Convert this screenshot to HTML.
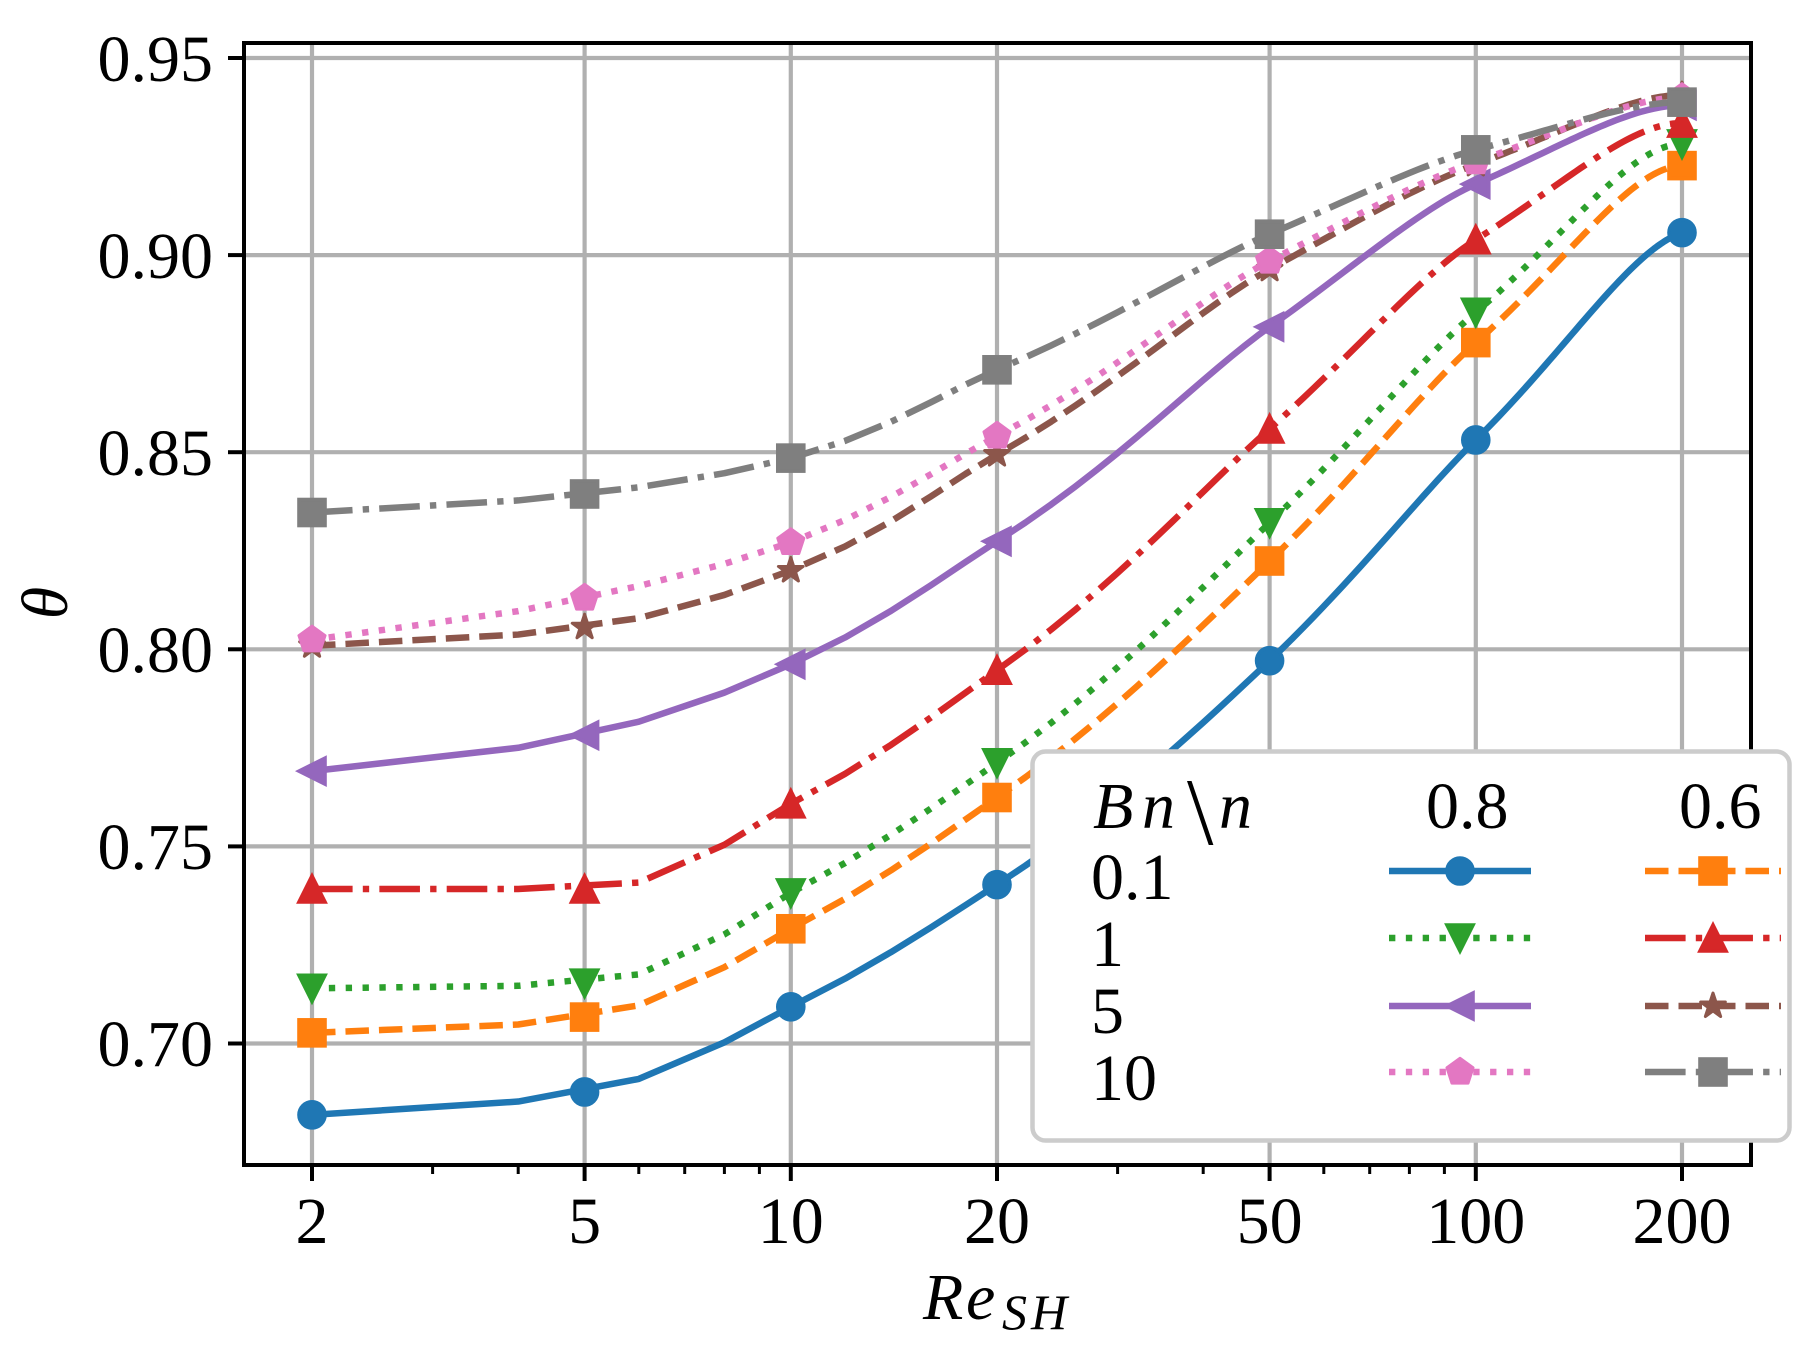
<!DOCTYPE html>
<html><head><meta charset="utf-8">
<style>
html,body{margin:0;padding:0;background:#fff;}
svg{display:block;}
text{font-family:"Liberation Serif","DejaVu Serif",serif;fill:#000;}
</style></head><body>
<svg id="s" width="1819" height="1357" viewBox="0 0 1819 1357" xmlns="http://www.w3.org/2000/svg">
<rect x="0" y="0" width="1819" height="1357" fill="#fff"/>
<!-- grid -->
<g stroke="#b0b0b0" stroke-width="4.2" fill="none">
<line x1="312" y1="43" x2="312" y2="1165"/>
<line x1="584.6" y1="43" x2="584.6" y2="1165"/>
<line x1="790.8" y1="43" x2="790.8" y2="1165"/>
<line x1="997" y1="43" x2="997" y2="1165"/>
<line x1="1269.6" y1="43" x2="1269.6" y2="1165"/>
<line x1="1475.8" y1="43" x2="1475.8" y2="1165"/>
<line x1="1682" y1="43" x2="1682" y2="1165"/>
<line x1="244" y1="58" x2="1751" y2="58"/>
<line x1="244" y1="255.1" x2="1751" y2="255.1"/>
<line x1="244" y1="452.2" x2="1751" y2="452.2"/>
<line x1="244" y1="649.3" x2="1751" y2="649.3"/>
<line x1="244" y1="846.4" x2="1751" y2="846.4"/>
<line x1="244" y1="1043.5" x2="1751" y2="1043.5"/>
</g>
<g id="series"></g>
<!-- spines & ticks -->
<rect x="244" y="43" width="1507" height="1122" fill="none" stroke="#000" stroke-width="4"/>
<g stroke="#000" stroke-width="4">
<line x1="228" y1="58" x2="244" y2="58"/>
<line x1="228" y1="255.1" x2="244" y2="255.1"/>
<line x1="228" y1="452.2" x2="244" y2="452.2"/>
<line x1="228" y1="649.3" x2="244" y2="649.3"/>
<line x1="228" y1="846.4" x2="244" y2="846.4"/>
<line x1="228" y1="1043.5" x2="244" y2="1043.5"/>
<line x1="312" y1="1165" x2="312" y2="1181"/>
<line x1="584.6" y1="1165" x2="584.6" y2="1181"/>
<line x1="790.8" y1="1165" x2="790.8" y2="1181"/>
<line x1="997" y1="1165" x2="997" y2="1181"/>
<line x1="1269.6" y1="1165" x2="1269.6" y2="1181"/>
<line x1="1475.8" y1="1165" x2="1475.8" y2="1181"/>
<line x1="1682" y1="1165" x2="1682" y2="1181"/>
</g>
<g stroke="#000" stroke-width="3">
<line x1="432.6" y1="1165" x2="432.6" y2="1174"/>
<line x1="518.2" y1="1165" x2="518.2" y2="1174"/>
<line x1="638.8" y1="1165" x2="638.8" y2="1174"/>
<line x1="684.7" y1="1165" x2="684.7" y2="1174"/>
<line x1="724.4" y1="1165" x2="724.4" y2="1174"/>
<line x1="759.4" y1="1165" x2="759.4" y2="1174"/>
<line x1="1117.6" y1="1165" x2="1117.6" y2="1174"/>
<line x1="1203.2" y1="1165" x2="1203.2" y2="1174"/>
<line x1="1323.8" y1="1165" x2="1323.8" y2="1174"/>
<line x1="1369.7" y1="1165" x2="1369.7" y2="1174"/>
<line x1="1409.4" y1="1165" x2="1409.4" y2="1174"/>
<line x1="1444.4" y1="1165" x2="1444.4" y2="1174"/>
</g>
<!-- y tick labels -->
<g font-size="66" text-anchor="end">
<text x="213" y="81">0.95</text>
<text x="213" y="278">0.90</text>
<text x="213" y="475">0.85</text>
<text x="213" y="672">0.80</text>
<text x="213" y="869">0.75</text>
<text x="213" y="1066">0.70</text>
</g>
<!-- x tick labels -->
<g font-size="66" text-anchor="middle">
<text x="312" y="1243">2</text>
<text x="584.6" y="1243">5</text>
<text x="790.8" y="1243">10</text>
<text x="997" y="1243">20</text>
<text x="1269.6" y="1243">50</text>
<text x="1475.8" y="1243">100</text>
<text x="1682" y="1243">200</text>
</g>
<!-- axis labels -->
<text transform="translate(67,603) rotate(-90)" text-anchor="middle" font-size="66" font-style="italic">θ</text>
<text y="1319" font-size="66" font-style="italic"><tspan x="923">R</tspan><tspan x="966">e</tspan></text>
<text y="1329" font-size="50" font-style="italic"><tspan x="1002">S</tspan><tspan x="1031">H</tspan></text>
<!-- legend -->
<rect x="1032.5" y="751.5" width="757" height="389" rx="13" ry="13" fill="#fff" stroke="#cccccc" stroke-width="4.5"/>
<g id="leg"></g>
<g font-size="66">
<text x="1093" y="828" font-style="italic">B</text>
<text x="1142" y="828" font-style="italic">n</text>
<text x="1187" y="844" font-size="95">\</text>
<text x="1219" y="828" font-style="italic">n</text>
<text x="1426" y="828">0.8</text>
<text x="1679" y="828">0.6</text>
<text x="1091" y="899">0.1</text>
<text x="1091" y="966">1</text>
<text x="1091" y="1033">5</text>
<text x="1091" y="1100">10</text>
</g>
</svg>
<script>
(function(){
const NS="http://www.w3.org/2000/svg";
const X=v=>312+685*Math.log10(v/2);
const Y=v=>58+(0.95-v)*3942;
const xs=[2,5,10,20,50,100,200];
const DASH={solid:null,dashed:"23.5 10",dotted:"6.35 10.5",dashdot:"40.6 10.2 6.35 10.2"};
const series=[
 {c:"#1f77b4",m:"o",ls:"solid",  y:[0.6819,0.6877,0.7093,0.7403,0.7971,0.8531,0.9057]},
 {c:"#ff7f0e",m:"s",ls:"dashed", y:[0.7027,0.7067,0.7291,0.7624,0.8224,0.8778,0.9227]},
 {c:"#2ca02c",m:"v",ls:"dotted", y:[0.7140,0.7153,0.7382,0.7712,0.8321,0.8855,0.9282]},
 {c:"#d62728",m:"^",ls:"dashdot",y:[0.7392,0.7392,0.7608,0.7947,0.8559,0.9039,0.9335]},
 {c:"#9467bd",m:"<",ls:"solid",  y:[0.7691,0.7782,0.7962,0.8274,0.8818,0.9180,0.9380]},
 {c:"#8c564b",m:"*",ls:"dashed", y:[0.8009,0.8056,0.8200,0.8494,0.8964,0.9230,0.9406]},
 {c:"#e377c2",m:"p",ls:"dotted", y:[0.8024,0.8130,0.8271,0.8541,0.8985,0.9237,0.9400]},
 {c:"#7f7f7f",m:"s",ls:"dashdot",y:[0.8347,0.8394,0.8485,0.8709,0.9053,0.9267,0.9388]}
];
function sgn(v){return v>0?1:(v<0?-1:0);}
function pchipD(x,y){
 const n=x.length,h=[],del=[],d=new Array(n).fill(0);
 for(let i=0;i<n-1;i++){h.push(x[i+1]-x[i]);del.push((y[i+1]-y[i])/h[i]);}
 for(let k=1;k<n-1;k++){
  if(del[k-1]*del[k]<=0){d[k]=0;}
  else{const w1=2*h[k]+h[k-1],w2=h[k]+2*h[k-1];d[k]=(w1+w2)/(w1/del[k-1]+w2/del[k]);}
 }
 function edge(h0,h1,m0,m1){let dd=((2*h0+h1)*m0-h0*m1)/(h0+h1);
  if(sgn(dd)!==sgn(m0))dd=0;else if(sgn(m0)!==sgn(m1)&&Math.abs(dd)>Math.abs(3*m0))dd=3*m0;return dd;}
 d[0]=edge(h[0],h[1],del[0],del[1]);
 d[n-1]=edge(h[n-2],h[n-3],del[n-2],del[n-3]);
 return d;
}
function ev(x,y,d,t){let i=0;while(i<x.length-2&&t>x[i+1])i++;
 const h=x[i+1]-x[i],s=(t-x[i])/h,s2=s*s,s3=s2*s;
 return (2*s3-3*s2+1)*y[i]+(s3-2*s2+s)*h*d[i]+(-2*s3+3*s2)*y[i+1]+(s3-s2)*h*d[i+1];}
function el(tag,attrs,parent){const e=document.createElementNS(NS,tag);for(const k in attrs)e.setAttribute(k,attrs[k]);parent.appendChild(e);return e;}
function poly(pts){return pts.map(p=>p[0].toFixed(2)+","+p[1].toFixed(2)).join(" ");}
function marker(g,type,cx,cy,color){
 const s=13;let e;
 const common={fill:color,stroke:color,"stroke-width":"3.6","stroke-linejoin":"miter"};
 if(type==="o"){e=el("circle",Object.assign({cx:cx,cy:cy,r:s},common),g);}
 else if(type==="s"){e=el("rect",Object.assign({x:cx-s,y:cy-s,width:2*s,height:2*s},common),g);}
 else if(type==="v"){e=el("polygon",Object.assign({points:poly([[cx,cy+s],[cx-s,cy-s],[cx+s,cy-s]])},common),g);}
 else if(type==="^"){e=el("polygon",Object.assign({points:poly([[cx,cy-s],[cx-s,cy+s],[cx+s,cy+s]])},common),g);}
 else if(type==="<"){e=el("polygon",Object.assign({points:poly([[cx-s,cy],[cx+s,cy-s],[cx+s,cy+s]])},common),g);}
 else if(type==="p"){const R=14,pts=[];for(let k=0;k<5;k++){const a=-Math.PI/2+k*2*Math.PI/5;pts.push([cx+R*Math.cos(a),cy+R*Math.sin(a)]);}
  e=el("polygon",Object.assign({points:poly(pts)},common),g);e.setAttribute("stroke-linejoin","round");e.setAttribute("stroke-width","2.5");}
 else if(type==="*"){const R=13,r=R*0.381966,pts=[];for(let k=0;k<10;k++){const a=-Math.PI/2+k*Math.PI/5,rr=(k%2===0)?R:r;pts.push([cx+rr*Math.cos(a),cy+rr*Math.sin(a)]);}
  e=el("polygon",Object.assign({points:poly(pts)},common),g);e.setAttribute("stroke-linejoin","round");e.setAttribute("stroke-width","3");}
 return e;}
const g=document.getElementById("series");
series.forEach(s=>{
 const D=pchipD(xs,s.y);
 let d="";
 for(let k=0;k<100;k++){const t=2+2*k;const v=ev(xs,s.y,D,t);d+=(k?"L":"M")+X(t).toFixed(2)+","+Y(v).toFixed(2);}
 const p=el("path",{d:d,fill:"none",stroke:s.c,"stroke-width":"6.5","stroke-linejoin":"round","stroke-linecap":"butt"},g);
 if(DASH[s.ls])p.setAttribute("stroke-dasharray",DASH[s.ls]);
 xs.forEach((x,i)=>marker(g,s.m,X(x),Y(s.y[i]),s.c));
});
// legend handles
const lg=document.getElementById("leg");
const rows=[871,938,1006,1072];
const cols=[{x1:1389,x2:1531,cx:1460},{x1:1645,x2:1781,cx:1713}];
for(let r=0;r<4;r++){for(let c=0;c<2;c++){
 const s=series[r*2+c];const C=cols[c];
 const p=el("line",{x1:C.x1,y1:rows[r],x2:C.x2,y2:rows[r],stroke:s.c,"stroke-width":"6.5","stroke-linecap":"butt"},lg);
 if(DASH[s.ls])p.setAttribute("stroke-dasharray",DASH[s.ls]);
 marker(lg,s.m,C.cx,rows[r],s.c);
}}
})();
</script>
</body></html>
